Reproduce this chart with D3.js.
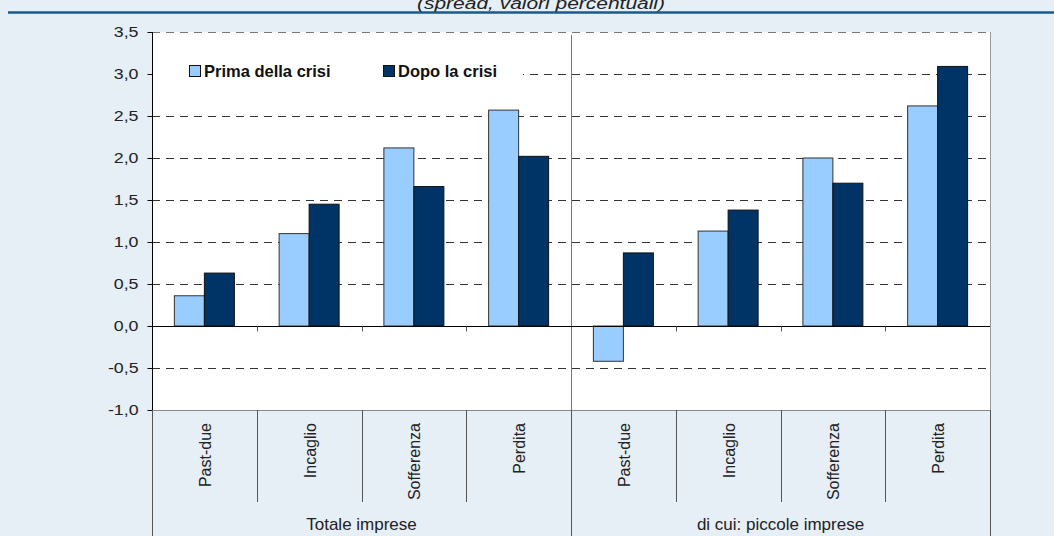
<!DOCTYPE html>
<html><head><meta charset="utf-8">
<script src="https://cdn.jsdelivr.net/npm/d3@7"></script>
<style>
html,body{margin:0;padding:0;background:#e6eef6;}
svg{display:block;font-family:Arial,"Liberation Sans",sans-serif;}
</style></head>
<body>
<svg id="c" width="1054" height="536"></svg>
<script>
const subtitle = "(spread, valori percentuali)";
const groups = ["Totale imprese", "di cui: piccole imprese"];
const categories = ["Past-due", "Incaglio", "Sofferenza", "Perdita"];
const seriesNames = ["Prima della crisi", "Dopo la crisi"];
const prima = [0.36, 1.10, 2.12, 2.57, -0.42, 1.13, 2.00, 2.62];
const dopo  = [0.63, 1.45, 1.66, 2.02, 0.87, 1.38, 1.70, 3.09];
const yTicks = [-1.0, -0.5, 0.0, 0.5, 1.0, 1.5, 2.0, 2.5, 3.0, 3.5];

const colors = ["#99ccff", "#003366"];
const svg = d3.select("#c");
const L = 152, R = 990, T = 32, B = 410;

const keys = [];
groups.forEach((g, gi) => categories.forEach((c, ci) => keys.push({g, c, gi, i: gi * categories.length + ci})));
const x0 = d3.scaleBand().domain(keys.map(k => k.i)).range([L, R]).paddingInner(0).paddingOuter(0);
const x1 = d3.scaleBand().domain([0, 1]).range([0, x0.bandwidth()]).paddingInner(0).paddingOuter(0.746);
const y = d3.scaleLinear().domain([-1, 3.5]).range([B, T]);
const fmt = v => d3.format(".1f")(v).replace(".", ",").replace("\u2212", "-");

// subtitle
const st = svg.append("text").attr("x", 541).attr("y", 9).attr("text-anchor", "middle")
  .attr("font-size", 16).attr("font-style", "italic").attr("fill", "#222").text(subtitle);
st.attr("textLength", 248).attr("lengthAdjust", "spacingAndGlyphs");
// blue rule
svg.append("line").attr("x1", 8).attr("x2", 1054).attr("y1", 12.5).attr("y2", 12.5)
  .attr("stroke", "#1b5a88").attr("stroke-width", 2.5);

// plot background
svg.append("rect").attr("x", L).attr("y", T).attr("width", R - L).attr("height", B - T).attr("fill", "#fff");

// gridlines
const grid = svg.append("g");
yTicks.filter(v => v !== 0 && v !== -1).forEach(v => {
  grid.append("line").attr("x1", L).attr("x2", R).attr("y1", Math.round(y(v)) + 0.5).attr("y2", Math.round(y(v)) + 0.5)
    .attr("stroke", v === 3.5 ? "#777" : "#333").attr("stroke-width", 1).attr("stroke-dasharray", "8,6");
});
// right border
svg.append("line").attr("x1", R + 0.5).attr("x2", R + 0.5).attr("y1", T).attr("y2", B).attr("stroke", "#999");
// group separator inside plot
const sepX = Math.round(x0(categories.length)) + 0.5;
svg.append("line").attr("x1", sepX).attr("x2", sepX).attr("y1", 35).attr("y2", B).attr("stroke", "#777");

// legend background
svg.append("rect").attr("x", L + 1).attr("y", 56).attr("width", 370).attr("height", 34).attr("fill", "#fff");

// bars
const bars = svg.append("g");
[prima, dopo].forEach((vals, si) => {
  bars.selectAll(null).data(keys).enter().append("rect")
    .attr("x", d => x0(d.i) + x1(si))
    .attr("width", x1.bandwidth())
    .attr("y", d => y(Math.max(0, vals[d.i])))
    .attr("height", d => Math.abs(y(vals[d.i]) - y(0)))
    .attr("fill", colors[si]).attr("stroke", si === 0 ? "#333" : "#111").attr("stroke-width", 1);
});

// zero axis with ticks
const z = Math.round(y(0)) + 0.5;
svg.append("line").attr("x1", L).attr("x2", R).attr("y1", z).attr("y2", z).attr("stroke", "#000");
keys.slice(1).forEach(k => {
  if (k.i === categories.length) return;
  const xx = Math.round(x0(k.i)) + 0.5;
  svg.append("line").attr("x1", xx).attr("x2", xx).attr("y1", z).attr("y2", z + 5).attr("stroke", "#555");
});

// y axis
const ya = svg.append("g").attr("transform", `translate(${L + 0.5},0)`)
  .call(d3.axisLeft(y).tickValues(yTicks).tickFormat(fmt).tickSize(5).tickPadding(9));
ya.select(".domain").attr("stroke", "#000").attr("d", `M0,${T}V${B}`);
ya.selectAll(".tick line").attr("stroke", "#000");
ya.selectAll(".tick text").attr("font-size", 14).attr("fill", "#222").attr("font-family", "Arial, 'Liberation Sans', sans-serif")
  .each(function () { const w = this.getComputedTextLength(); d3.select(this).attr("textLength", w * 1.27).attr("lengthAdjust", "spacingAndGlyphs"); });

// bottom band
svg.append("line").attr("x1", L).attr("x2", R).attr("y1", B + 0.5).attr("y2", B + 0.5).attr("stroke", "#888");
keys.forEach(k => {
  const xx = Math.round(x0(k.i)) + 0.5;
  const isGroup = k.i % categories.length === 0;
  svg.append("line").attr("x1", xx).attr("x2", xx).attr("y1", B).attr("y2", isGroup ? 536 : 502).attr("stroke", "#555");
});
svg.append("line").attr("x1", R + 0.5).attr("x2", R + 0.5).attr("y1", B).attr("y2", 536).attr("stroke", "#555");

// category labels (rotated)
keys.forEach(k => {
  const cx = x0(k.i) + x0.bandwidth() / 2;
  svg.append("text").attr("transform", `translate(${cx + 1},423) rotate(-90)`)
    .attr("text-anchor", "end").attr("dy", "0.35em").attr("font-size", 16).attr("fill", "#222").text(k.c);
});
// group labels
groups.forEach((g, gi) => {
  const a = x0(gi * categories.length), b = x0(gi * categories.length + categories.length - 1) + x0.bandwidth();
  svg.append("text").attr("x", (a + b) / 2).attr("y", 530).attr("text-anchor", "middle")
    .attr("font-size", 17).attr("fill", "#222").text(g);
});

// legend
const legX = [189, 383];
seriesNames.forEach((n, i) => {
  svg.append("rect").attr("x", legX[i] + 0.5).attr("y", 65.5).attr("width", 11).attr("height", 11)
    .attr("fill", colors[i]).attr("stroke", "#111");
  svg.append("text").attr("x", legX[i] + 15).attr("y", 76.5).attr("font-size", 16.5).attr("font-weight", "bold")
    .attr("fill", "#111").text(n);
});
</script>
</body></html>
